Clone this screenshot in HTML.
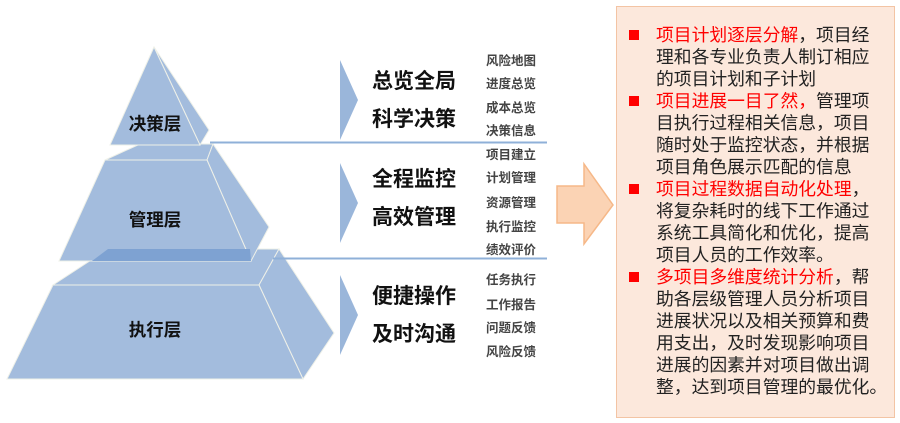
<!DOCTYPE html>
<html><head><meta charset="utf-8"><style>
body{margin:0;width:900px;height:423px;background:#fff;position:relative;overflow:hidden;font-family:"Liberation Sans","Noto Sans CJK SC",sans-serif}
.t{position:absolute;white-space:nowrap}
.big{font-size:21px;font-weight:bold;color:#111;left:372px;line-height:24px}
.sm{font-size:12.5px;font-weight:bold;color:#444;left:486px;line-height:16px}
.lab{font-size:17.5px;font-weight:bold;color:#111;line-height:20px;width:100px;text-align:center;left:105px}
#box{position:absolute;left:616px;top:6px;width:279px;height:412px;background:#fce8dc;border:1px solid #f3c4a4;box-sizing:border-box}
.ln{position:absolute;left:656px;font-size:17.8px;color:#222;line-height:22px;white-space:nowrap}
.r{color:#f00}
.b{position:absolute;left:629px;width:10px;height:10px;background:#f00}
</style></head><body>
<svg width="900" height="423" style="position:absolute;left:0;top:0">
<g fill="#a3bcdd" stroke="#eef0e8" stroke-width="1">
<polygon points="53,285 259,285 279,249 108,249"/>
<polygon points="259,285 279,249 334,333 303,379"/>
<polygon points="53,285 259,285 303,379 7,379"/>
<polygon points="105,160 207,160 213,144 140,144"/>
<polygon points="207,160 213,144 269,227 251,261"/>
<polygon points="105,160 207,160 251,261 59,261"/>
<polygon points="154,47 209,130 200,145"/>
<polygon points="154,47 200,145 110,145"/>
</g>
<polygon points="108,249 250,249 251,261 92,261" fill="#7ea2d2"/>
<line x1="210" y1="142.5" x2="547" y2="142.5" stroke="#8fb0d8" stroke-width="2"/>
<line x1="273" y1="258.5" x2="547" y2="258.5" stroke="#8fb0d8" stroke-width="2"/>
<g fill="#9ab6da">
<polygon points="340,60 358,100 340,140"/>
<polygon points="340,163 358,203 340,243"/>
<polygon points="340,275 358,315 340,355"/>
</g>
<polygon points="557,186 584,186 584,164 613,205 584,244 584,223 557,223" fill="#fbd3b4" stroke="#f6b888" stroke-width="1.5"/>
</svg>
<div class="t lab" style="top:114px">决策层</div>
<div class="t lab" style="top:210px">管理层</div>
<div class="t lab" style="top:320px">执行层</div>
<div class="t big" style="top:70px">总览全局</div>
<div class="t big" style="top:108px">科学决策</div>
<div class="t big" style="top:168px">全程监控</div>
<div class="t big" style="top:206px">高效管理</div>
<div class="t big" style="top:285px">便捷操作</div>
<div class="t big" style="top:323px">及时沟通</div>
<div class="t sm" style="top:53px">风险地图</div>
<div class="t sm" style="top:76px">进度总览</div>
<div class="t sm" style="top:100px">成本总览</div>
<div class="t sm" style="top:123px">决策信息</div>
<div class="t sm" style="top:147px">项目建立</div>
<div class="t sm" style="top:170px">计划管理</div>
<div class="t sm" style="top:195px">资源管理</div>
<div class="t sm" style="top:219px">执行监控</div>
<div class="t sm" style="top:242px">绩效评价</div>
<div class="t sm" style="top:272px">任务执行</div>
<div class="t sm" style="top:297px">工作报告</div>
<div class="t sm" style="top:320px">问题反馈</div>
<div class="t sm" style="top:344px">风险反馈</div>
<div id="box"></div>
<div class="b" style="top:30px"></div>
<div class="b" style="top:96px"></div>
<div class="b" style="top:184px"></div>
<div class="b" style="top:272px"></div>
<div class="ln" style="top:24px"><span class="r">项目计划逐层分解</span>，项目经<br>理和各专业负责人制订相应<br>的项目计划和子计划<br><span class="r">项目进展一目了然，</span>管理项<br>目执行过程相关信息，项目<br>随时处于监控状态，并根据<br>项目角色展示匹配的信息<br><span class="r">项目过程数据自动化处理</span>，<br>将复杂耗时的线下工作通过<br>系统工具简化和优化，提高<br>项目人员的工作效率。<br><span class="r">多项目多维度统计分析</span>，帮<br>助各层级管理人员分析项目<br>进展状况以及相关预算和费<br>用支出，及时发现影响项目<br>进展的因素并对项目做出调<br>整，达到项目管理的最优化。</div>
</body></html>
